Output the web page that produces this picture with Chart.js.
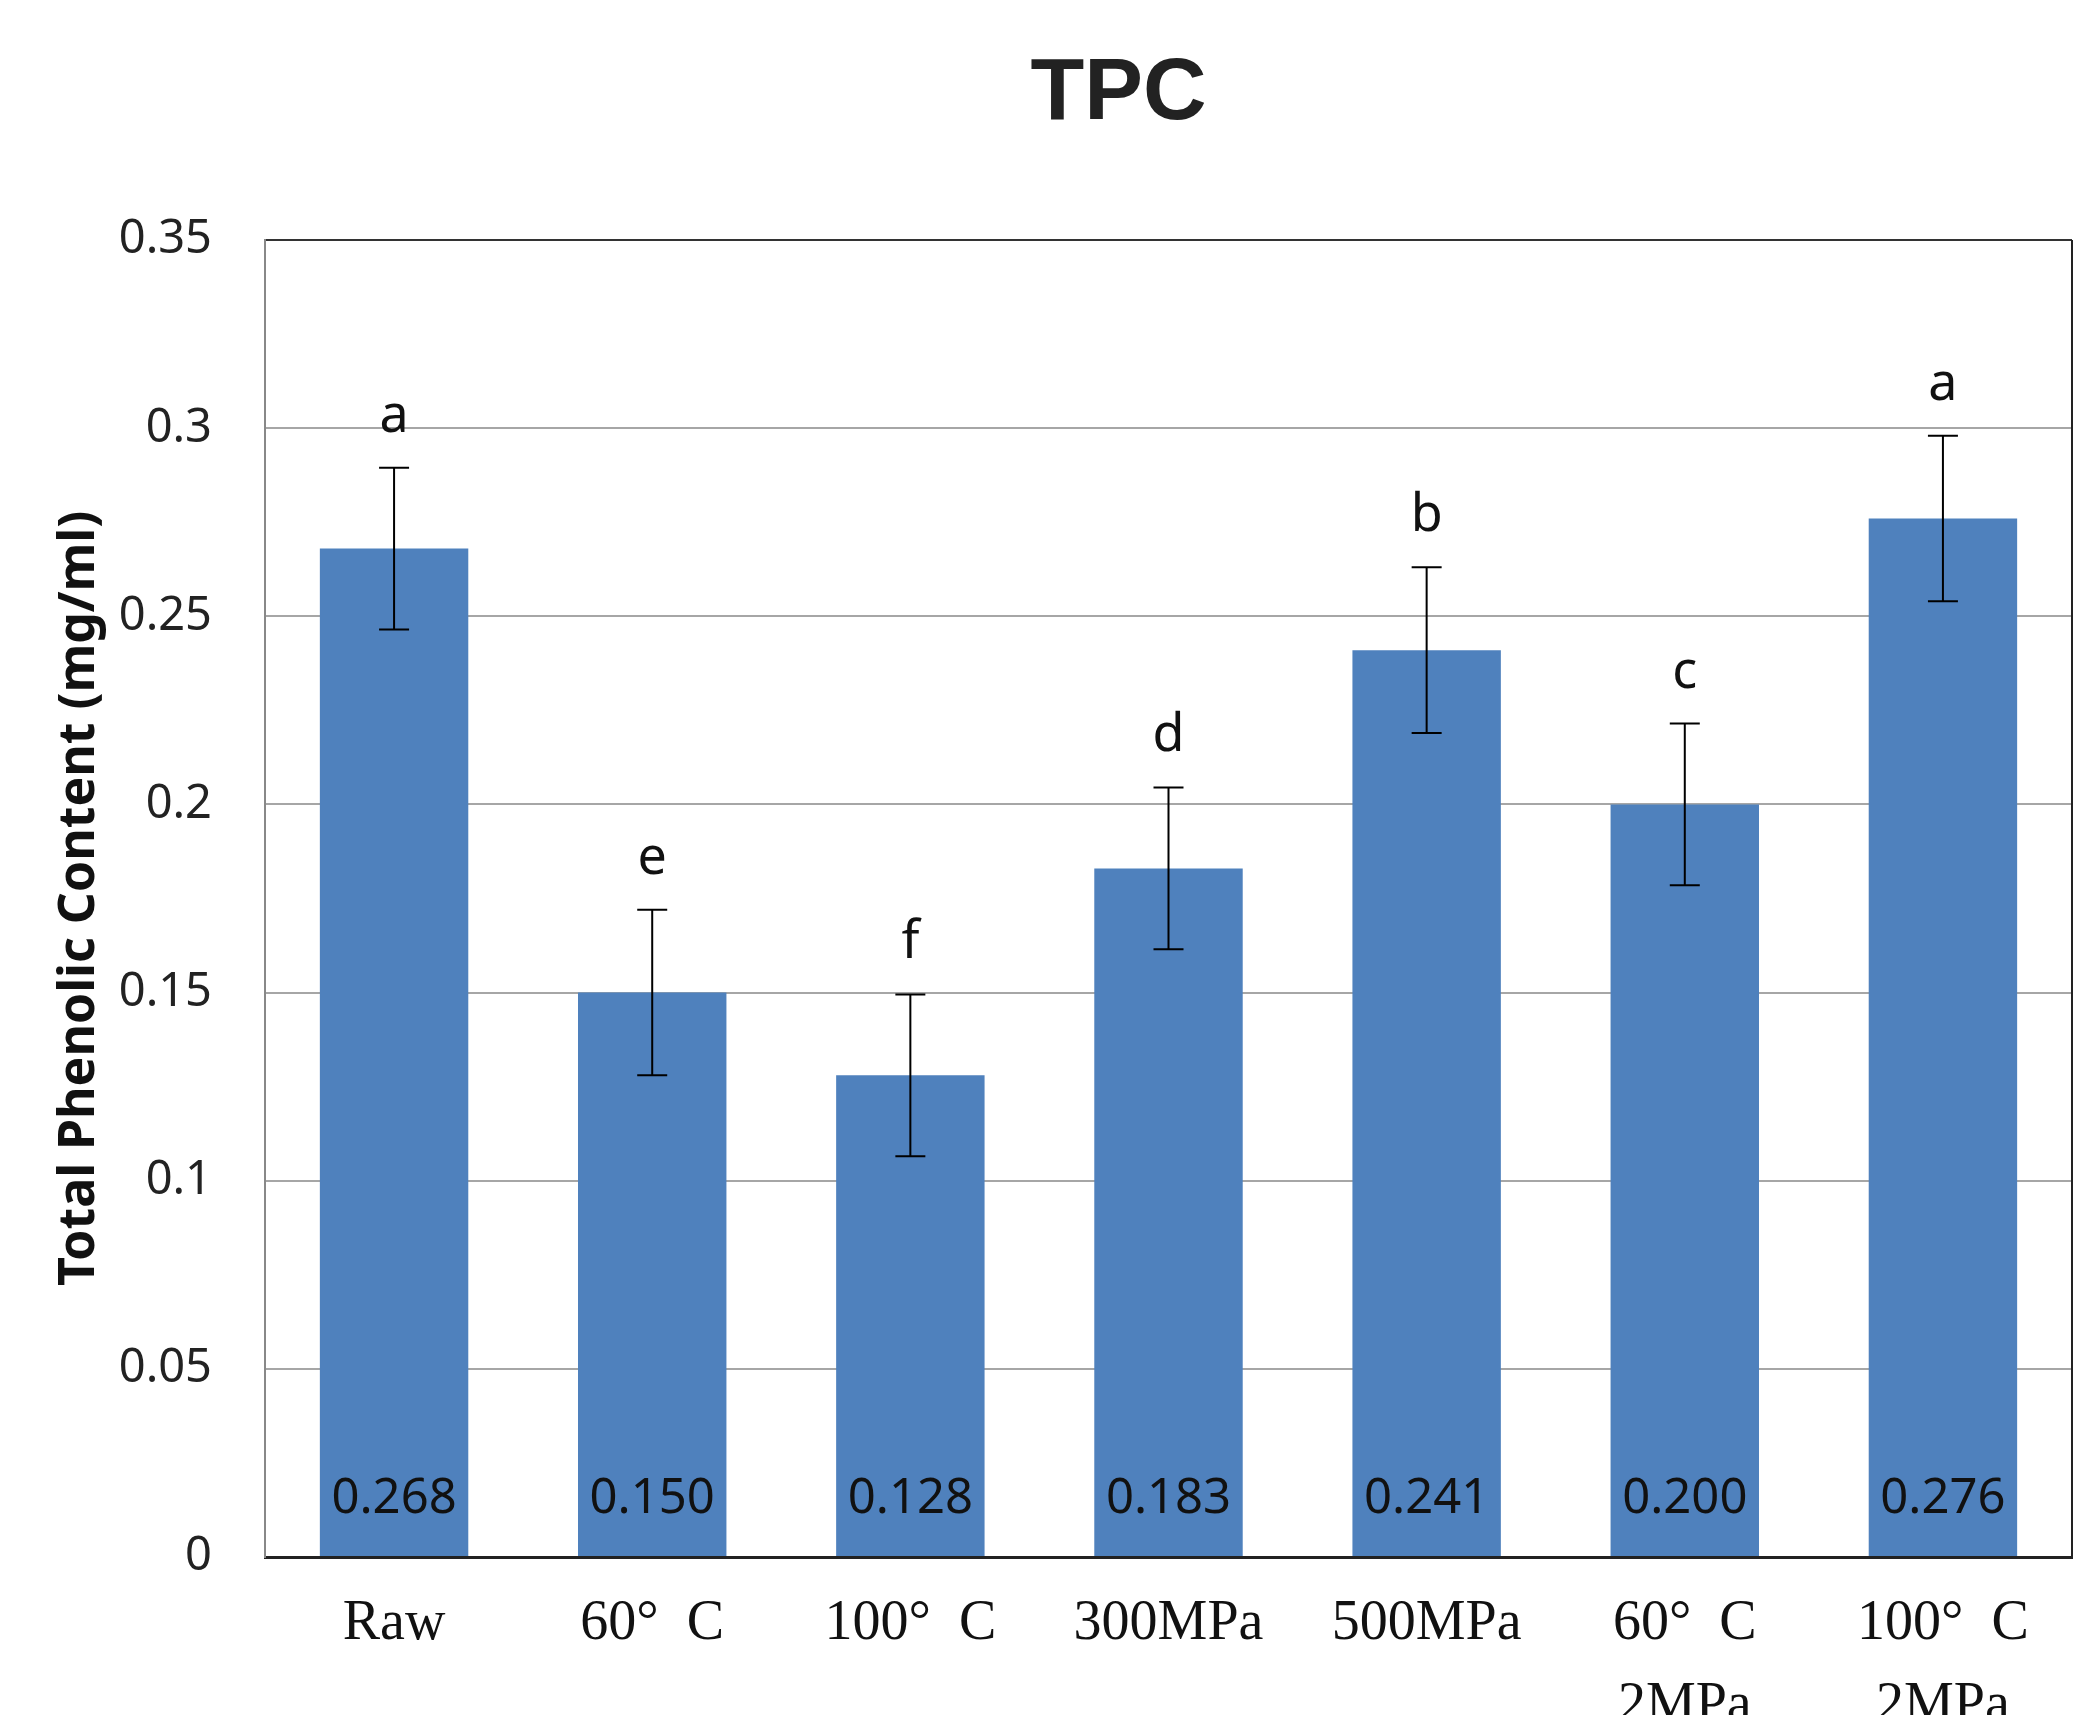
<!DOCTYPE html>
<html>
<head>
<meta charset="utf-8">
<script src="https://cdn.jsdelivr.net/npm/chart.js@4.4.1/dist/chart.umd.min.js"></script>
<style>
  html, body { margin: 0; padding: 0; background: #fff; }
</style>
</head>
<body>
<canvas id="myChart" width="2079" height="1715"></canvas>
<script>
const categories = ['Raw', '60°  C', '100°  C', '300MPa', '500MPa', ['60°  C', '2MPa'], ['100°  C', '2MPa']];
const tpcValues = [0.268, 0.150, 0.128, 0.183, 0.241, 0.200, 0.276];
const tpcErrors = [0.0215, 0.022, 0.0215, 0.0215, 0.022, 0.0215, 0.022];
const groupLetters = ['a', 'e', 'f', 'd', 'b', 'c', 'a'];
const yTicks = [0, 0.05, 0.1, 0.15, 0.2, 0.25, 0.3, 0.35];
const yTickLabels = ['0', '0.05', '0.1', '0.15', '0.2', '0.25', '0.3', '0.35'];

// error bars, letters above them, values inside the bars, right frame line
const barExtras = {
  id: 'barExtras',
  afterDatasetsDraw(chart) {
    const ctx = chart.ctx;
    const y = chart.scales.y;
    const area = chart.chartArea;
    const meta = chart.getDatasetMeta(0);

    ctx.save();
    ctx.strokeStyle = '#222';
    ctx.lineWidth = 2;
    ctx.beginPath();
    ctx.moveTo(area.right, area.top);
    ctx.lineTo(area.right, area.bottom);
    ctx.stroke();

    meta.data.forEach((bar, i) => {
      const top = y.getPixelForValue(tpcValues[i] + tpcErrors[i]);
      const bot = y.getPixelForValue(tpcValues[i] - tpcErrors[i]);
      ctx.strokeStyle = '#000';
      ctx.lineWidth = 2;
      ctx.beginPath();
      ctx.moveTo(bar.x, top);
      ctx.lineTo(bar.x, bot);
      ctx.moveTo(bar.x - 15, top);
      ctx.lineTo(bar.x + 15, top);
      ctx.moveTo(bar.x - 15, bot);
      ctx.lineTo(bar.x + 15, bot);
      ctx.stroke();

      ctx.fillStyle = '#111';
      ctx.textAlign = 'center';
      ctx.textBaseline = 'alphabetic';
      ctx.font = '52px "Noto Sans"';
      ctx.fillText(groupLetters[i], bar.x, top - 36);

      ctx.textBaseline = 'middle';
      ctx.font = '49px "Noto Sans"';
      ctx.fillText(tpcValues[i].toFixed(3), bar.x, area.bottom - 58);
    });
    ctx.restore();
  }
};

const titleText = {
  id: 'titleText',
  afterDraw(chart) {
    const ctx = chart.ctx;
    ctx.save();
    ctx.fillStyle = '#222';
    ctx.font = 'bold 88px "Liberation Sans"';
    ctx.textAlign = 'center';
    ctx.textBaseline = 'middle';
    ctx.fillText('TPC', chart.width * 0.538, 95);
    ctx.restore();
  }
};

const config = {
  type: 'bar',
  data: {
    labels: categories,
    datasets: [{
      label: 'TPC',
      data: tpcValues,
      backgroundColor: '#4F81BD',
      borderWidth: 0,
      categoryPercentage: 1,
      barPercentage: 0.575
    }]
  },
  options: {
    responsive: false,
    animation: false,
    layout: {
      padding: { top: 240, left: 50, right: 7, bottom: 0 }
    },
    plugins: {
      legend: { display: false },
      tooltip: { enabled: false },
      title: { display: false }
    },
    scales: {
      x: {
        grid: { display: false, drawTicks: false },
        border: { display: true, color: '#222', width: 3 },
        ticks: {
          color: '#111',
          padding: 27,
          maxRotation: 0,
          autoSkip: false,
          font: { family: '"Liberation Serif"', size: 56, lineHeight: 1.45 }
        },
        afterFit(scale) { scale.height = 158; }
      },
      y: {
        min: 0,
        max: 0.35,
        afterBuildTicks(scale) {
          scale.ticks = yTicks.map(v => ({ value: v }));
        },
        grid: {
          drawTicks: false,
          lineWidth: 2,
          color: (c) => (c.tick && c.tick.value === 0.35) ? '#333' : '#a6a6a6'
        },
        border: { display: true, color: '#888', width: 2 },
        ticks: {
          color: '#222',
          padding: 53,
          font: { family: '"Noto Sans"', size: 47 },
          callback: (v, i) => yTickLabels[i]
        },
        title: {
          display: true,
          text: 'Total Phenolic Content (mg/ml)',
          color: '#111',
          padding: 0,
          font: { family: '"Noto Sans"', weight: 'bold', size: 50 }
        },
        afterFit(scale) { scale.width = 215; }
      }
    }
  },
  plugins: [barExtras, titleText]
};

var myChart = new Chart(document.getElementById('myChart'), config);
</script>
</body>
</html>
